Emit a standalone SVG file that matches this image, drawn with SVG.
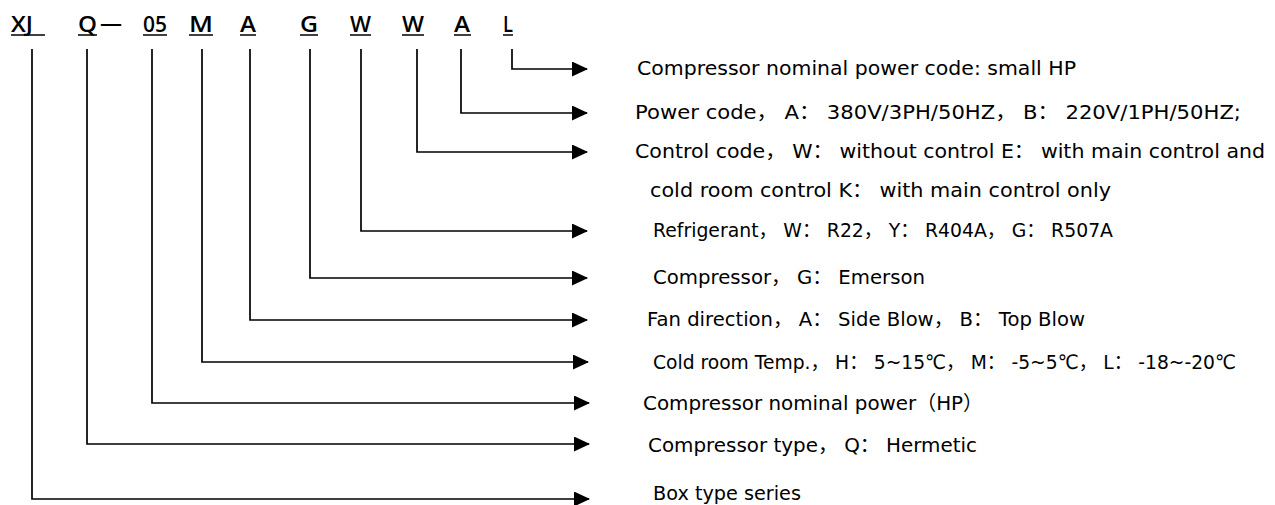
<svg xmlns="http://www.w3.org/2000/svg" width="1275" height="505" viewBox="0 0 1275 505">
<style>
.code{font-family:"Open Sans","DejaVu Sans",sans-serif;font-size:21px;font-weight:600;fill:#000}
.ul{stroke:#000;stroke-width:1.5}
.lbl{font-family:"DejaVu Sans","Noto Sans CJK SC",sans-serif;font-size:20px;fill:#000}
.con{fill:none;stroke:#000;stroke-width:1.7}
</style>
<defs>
<marker id="ah" markerWidth="16" markerHeight="15" refX="15" refY="7.5" orient="auto" markerUnits="userSpaceOnUse">
<polygon points="0,0 16,7.5 0,15" fill="#000"/>
</marker>
</defs>
<rect width="1275" height="505" fill="#fff"/>
<g id="codes">
<g id="c-xj"><text class="code" x="11" y="32" textLength="22" lengthAdjust="spacingAndGlyphs">XJ</text><line class="ul" x1="11" y1="35" x2="45" y2="35"/></g>
<g id="c-q"><text class="code" x="78" y="32" textLength="19" lengthAdjust="spacingAndGlyphs">Q</text><line class="ul" x1="78" y1="35" x2="97" y2="35"/><text class="code" x="100" y="31" textLength="22" lengthAdjust="spacingAndGlyphs">—</text></g>
<g id="c-05"><text class="code" x="143" y="32" textLength="24" lengthAdjust="spacingAndGlyphs">05</text><line class="ul" x1="143" y1="35" x2="167" y2="35"/></g>
<g id="c-m"><text class="code" x="189" y="32" textLength="24" lengthAdjust="spacingAndGlyphs">M</text><line class="ul" x1="189" y1="35" x2="213" y2="35"/></g>
<g id="c-a1"><text class="code" x="240" y="32" textLength="16" lengthAdjust="spacingAndGlyphs">A</text><line class="ul" x1="240" y1="35" x2="256" y2="35"/></g>
<g id="c-g"><text class="code" x="300" y="32" textLength="18" lengthAdjust="spacingAndGlyphs">G</text><line class="ul" x1="300" y1="35" x2="318" y2="35"/></g>
<g id="c-w1"><text class="code" x="350" y="32" textLength="21" lengthAdjust="spacingAndGlyphs">W</text><line class="ul" x1="350" y1="35" x2="371" y2="35"/></g>
<g id="c-w2"><text class="code" x="402" y="32" textLength="22" lengthAdjust="spacingAndGlyphs">W</text><line class="ul" x1="402" y1="35" x2="424" y2="35"/></g>
<g id="c-a2"><text class="code" x="454" y="32" textLength="16" lengthAdjust="spacingAndGlyphs">A</text><line class="ul" x1="454" y1="35" x2="471" y2="35"/></g>
<g id="c-l"><text class="code" x="503" y="32" textLength="10" lengthAdjust="spacingAndGlyphs">L</text><line class="ul" x1="503" y1="35" x2="513" y2="35"/></g>
</g>
<g id="connectors">
<polyline class="con" points="512,49 512,69 587,69" marker-end="url(#ah)"/>
<polyline class="con" points="461,49 461,113 587,113" marker-end="url(#ah)"/>
<polyline class="con" points="417,49 417,152 587,152" marker-end="url(#ah)"/>
<polyline class="con" points="361,49 361,231 587,231" marker-end="url(#ah)"/>
<polyline class="con" points="310,49 310,278 587,278" marker-end="url(#ah)"/>
<polyline class="con" points="250,49 250,320 587,320" marker-end="url(#ah)"/>
<polyline class="con" points="202,49 202,362 588,362" marker-end="url(#ah)"/>
<polyline class="con" points="152,49 152,403 589,403" marker-end="url(#ah)"/>
<polyline class="con" points="87,49 87,444 589,444" marker-end="url(#ah)"/>
<polyline class="con" points="32,49 32,499 589,499" marker-end="url(#ah)"/>
</g>
<g id="labels">
<g id="t-l"><text class="lbl" x="637" y="75" textLength="439" lengthAdjust="spacingAndGlyphs">Compressor nominal power code: small HP</text></g>
<g id="t-a2"><text class="lbl" x="635" y="119" textLength="606" lengthAdjust="spacingAndGlyphs">Power code， A：    380V/3PH/50HZ， B： 220V/1PH/50HZ;</text></g>
<g id="t-w2"><text class="lbl" x="635" y="158" textLength="630" lengthAdjust="spacingAndGlyphs">Control code， W： without control    E： with main control and</text><text class="lbl" x="650" y="197" textLength="461" lengthAdjust="spacingAndGlyphs">cold room control    K： with main control only</text></g>
<g id="t-w1"><text class="lbl" x="653" y="237" textLength="460" lengthAdjust="spacingAndGlyphs">Refrigerant， W： R22， Y： R404A， G： R507A</text></g>
<g id="t-g"><text class="lbl" x="653" y="284" textLength="272" lengthAdjust="spacingAndGlyphs">Compressor， G： Emerson</text></g>
<g id="t-a1"><text class="lbl" x="647" y="326" textLength="438" lengthAdjust="spacingAndGlyphs">Fan direction， A： Side Blow， B： Top Blow</text></g>
<g id="t-m"><text class="lbl" x="653" y="369" textLength="583" lengthAdjust="spacingAndGlyphs">Cold room Temp.， H： 5~15℃， M： -5~5℃， L： -18~-20℃</text></g>
<g id="t-05"><text class="lbl" x="643" y="410" textLength="340" lengthAdjust="spacingAndGlyphs">Compressor nominal power（HP）</text></g>
<g id="t-q"><text class="lbl" x="648" y="452" textLength="329" lengthAdjust="spacingAndGlyphs">Compressor type， Q： Hermetic</text></g>
<g id="t-xj"><text class="lbl" x="653" y="500" textLength="148" lengthAdjust="spacingAndGlyphs">Box type series</text></g>
</g>
</svg>
